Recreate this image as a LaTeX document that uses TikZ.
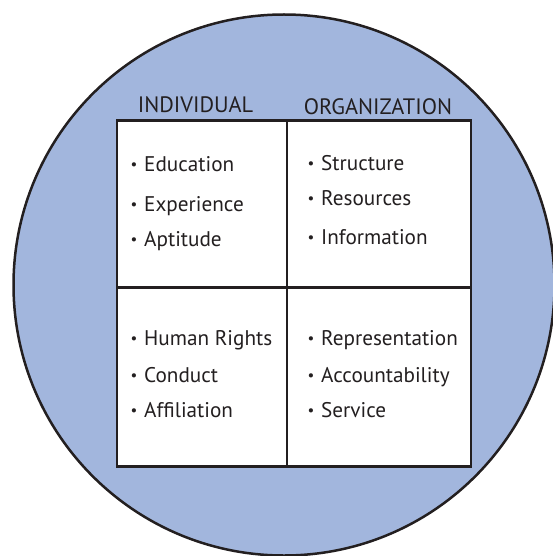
\documentclass[tikz,border=0pt]{standalone}
\usepackage{fontspec}
\setmainfont{PT Sans}
\definecolor{circfill}{RGB}{162,182,221}
\definecolor{ink}{RGB}{35,31,32}
\newcommand\bul{\makebox[13pt][l]{\hspace*{-0.5pt}\raisebox{2pt}{\fontsize{15}{15}\selectfont •}}}
\begin{document}
\begin{tikzpicture}[x=1pt,y=-1pt,
  item/.style={anchor=base west, inner sep=0pt, font=\fontsize{21.2}{21}\selectfont, text=ink},
  head/.style={anchor=base, inner sep=0pt, font=\fontsize{22.3}{22}\selectfont, text=ink},
  cell/.style={draw=ink, line width=2.5pt, fill=white, anchor=north west, inner sep=0pt, outer sep=0pt}]
\useasboundingbox (0,0) rectangle (553,556);
\clip (0,0) rectangle (553,556);
\node[circle, draw=ink, fill=circfill, line width=2.5pt, minimum size=541pt, inner sep=0pt] (circ) at (284,285) {};
\node[cell, minimum width=170pt, minimum height=166.6pt] (tl) at (117,120.7) {};
\node[cell, minimum width=184pt, minimum height=166.6pt] (tr) at (287,120.7) {};
\node[cell, minimum width=170pt, minimum height=179.4pt] (bl) at (117,287.3) {};
\node[cell, minimum width=184pt, minimum height=179.4pt] (br) at (287,287.3) {};
\node[head] (hind) at (195.5,112.7) {INDIVIDUAL};
\node[head] (horg) at (378,115) {ORGANIZATION};
\node[item] (i1) at (131,171.7) {\bul Education};
\node[item] (i2) at (131,211.7) {\bul Experience};
\node[item] (i3) at (131,246.7) {\bul Aptitude};
\node[item] (o1) at (308,171) {\bul Structure};
\node[item] (o2) at (308,205.7) {\bul Resources};
\node[item] (o3) at (308,244) {\bul Information};
\node[item] (i4) at (131,345.7) {\bul Human Rights};
\node[item] (i5) at (131,382.3) {\bul Conduct};
\node[item] (i6) at (131,417.7) {\bul Affiliation};
\node[item] (o4) at (308,345.7) {\bul Representation};
\node[item] (o5) at (308,382.3) {\bul Accountability};
\node[item] (o6) at (308,417.7) {\bul Service};
\end{tikzpicture}
\end{document}
